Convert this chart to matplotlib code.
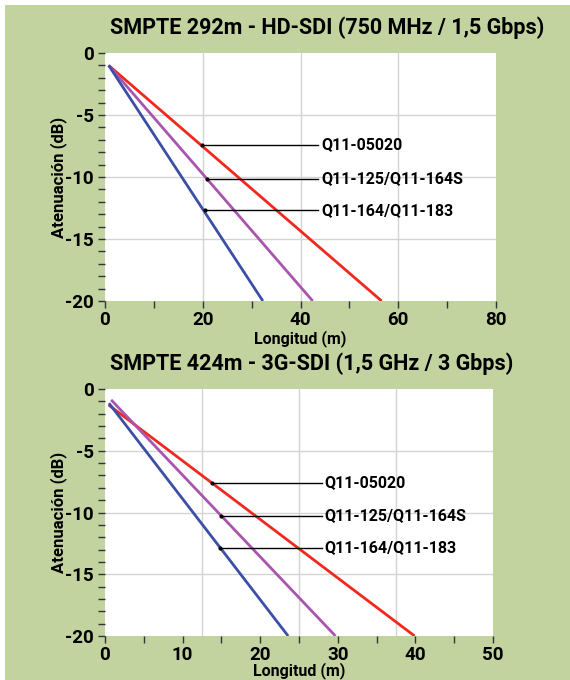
import matplotlib
matplotlib.use("Agg")
import matplotlib.pyplot as plt
from matplotlib.patches import Rectangle
from matplotlib.ticker import MultipleLocator

plt.rcParams['font.family'] = ['Roboto', 'DejaVu Sans']

# ---- data: top chart (HD-SDI) ----
hd_title = "SMPTE 292m - HD-SDI (750 MHz / 1,5 Gbps)"
hd_red_x = [0.75, 56.6]
hd_red_y = [-1.0, -20.0]
hd_purple_x = [0.75, 42.5]
hd_purple_y = [-1.0, -20.0]
hd_blue_x = [0.75, 32.3]
hd_blue_y = [-1.0, -20.0]
hd_xticks = [0, 20, 40, 60, 80]
hd_xgrid = [20, 40, 60]
hd_labels = ["Q11-05020", "Q11-125/Q11-164S", "Q11-164/Q11-183"]
hd_label_pts_x = [19.8, 20.9, 20.4]
hd_label_pts_y = [-7.41, -10.15, -12.7]
hd_label_end_x = 43.6

# ---- data: bottom chart (3G-SDI) ----
g3_title = "SMPTE 424m - 3G-SDI (1,5 GHz / 3 Gbps)"
g3_red_x = [0.46, 39.9]
g3_red_y = [-1.29, -20.0]
g3_purple_x = [0.79, 29.7]
g3_purple_y = [-0.88, -20.0]
g3_blue_x = [0.51, 23.6]
g3_blue_y = [-1.15, -20.0]
g3_xticks = [0, 10, 20, 30, 40, 50]
g3_xgrid = [12.5, 25, 37.5]
g3_labels = ["Q11-05020", "Q11-125/Q11-164S", "Q11-164/Q11-183"]
g3_label_pts_x = [13.8, 14.9, 14.8]
g3_label_pts_y = [-7.58, -10.26, -12.85]
g3_label_end_x = 27.9

yticks = [0, -5, -10, -15, -20]
ygrid = [-5, -10, -15]

GREEN = "#c3d3a0"
RED = "#f0281e"
PURPLE = "#a955b0"
BLUE = "#3b4fa6"

fig = plt.figure(figsize=(5.7, 6.8), dpi=100)
fig.patch.set_facecolor("white")
fig.add_artist(Rectangle((5/570, 0), 1 - 5/570, 1 - 5/680, transform=fig.transFigure,
                         facecolor=GREEN, edgecolor="none", zorder=-10))


def make(ax, title, series, xticks, xminor, xgrid, labels, lx, ly, lend, title_y, xlpad):
    xmax = xticks[-1]
    ax.set_facecolor("white")
    for s in ax.spines.values():
        s.set_visible(False)
    ax.set_xlim(0, xmax)
    ax.set_ylim(-20, 0)
    ax.set_xticks(xticks)
    ax.set_xticklabels([str(t) for t in xticks])
    ax.xaxis.set_minor_locator(MultipleLocator(xminor))
    ax.set_yticks(yticks)
    ax.set_yticklabels([str(t) for t in yticks])
    ax.yaxis.set_minor_locator(MultipleLocator(1))
    ax.tick_params(axis='both', which='both', direction='out', length=5, width=1,
                   color="#333333", labelsize=13.5, pad=3)
    ax.tick_params(axis='x', which='major', pad=2)
    for lab in ax.get_xticklabels() + ax.get_yticklabels():
        lab.set_fontweight("bold")
    for t in xgrid:
        ax.axvline(t, color="#d4d4d4", lw=1, zorder=0)
    for t in ygrid:
        ax.axhline(t, color="#d4d4d4", lw=1, zorder=0)
    for xs, ys, c in series:
        ax.plot(xs, ys, color=c, lw=2, solid_capstyle='butt', zorder=3)
    for name, x0, y0 in zip(labels, lx, ly):
        ax.plot([x0, lend], [y0, y0], color="black", lw=1, zorder=4, clip_on=False)
        ax.plot([x0], [y0], marker='o', ms=2, color="black", zorder=5)
        ax.text(lend + xmax * 0.008, y0, name, fontsize=11.5, fontweight="bold",
                va="center", ha="left", zorder=6)
    ax.set_xlabel("Longitud (m)", fontsize=11.5, fontweight="bold", labelpad=xlpad)
    ax.set_ylabel("Atenuación (dB)", fontsize=12, fontweight="bold", labelpad=-1)
    fig.text(110/570, title_y, title, fontsize=15.5, fontweight="bold", ha="left", va="center")


ax1 = fig.add_axes([105/570, 1 - 301/680, 391/570, 248/680])
make(ax1, hd_title,
     [(hd_red_x, hd_red_y, RED), (hd_purple_x, hd_purple_y, PURPLE), (hd_blue_x, hd_blue_y, BLUE)],
     hd_xticks, 10, hd_xgrid, hd_labels, hd_label_pts_x, hd_label_pts_y, hd_label_end_x, 1 - 28/680, 1.0)

ax2 = fig.add_axes([105/570, 1 - 636/680, 388/570, 247/680])
make(ax2, g3_title,
     [(g3_red_x, g3_red_y, RED), (g3_purple_x, g3_purple_y, PURPLE), (g3_blue_x, g3_blue_y, BLUE)],
     g3_xticks, 5, g3_xgrid, g3_labels, g3_label_pts_x, g3_label_pts_y, g3_label_end_x, 1 - 364/680, -1.5)

fig.savefig("out.png", dpi=100, facecolor=fig.get_facecolor())
